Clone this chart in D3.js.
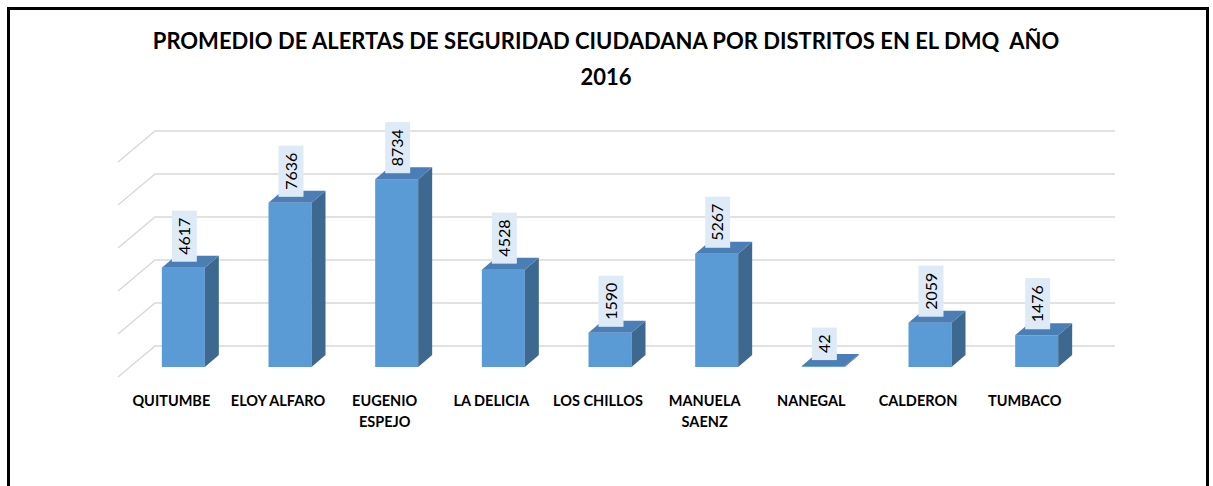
<!DOCTYPE html>
<html>
<head>
<meta charset="utf-8">
<script src="https://cdn.jsdelivr.net/npm/d3@7"></script>
<style>
  html, body { margin: 0; padding: 0; background: #fff; }
  svg { display: block; }
</style>
</head>
<body>
<svg id="chart" width="1213" height="486"></svg>
<script>
// ---- data ----
const categories = ["QUITUMBE", "ELOY ALFARO", "EUGENIO ESPEJO", "LA DELICIA", "LOS CHILLOS", "MANUELA SAENZ", "NANEGAL", "CALDERON", "TUMBACO"];
const categoryLines = [["QUITUMBE"], ["ELOY ALFARO"], ["EUGENIO", "ESPEJO"], ["LA DELICIA"], ["LOS CHILLOS"], ["MANUELA", "SAENZ"], ["NANEGAL"], ["CALDERON"], ["TUMBACO"]];
const values = [4617, 7636, 8734, 4528, 1590, 5267, 42, 2059, 1476];
const yTicks = [0, 2000, 4000, 6000, 8000, 10000];
const titleLines = ["PROMEDIO DE ALERTAS DE SEGURIDAD CIUDADANA POR DISTRITOS EN EL DMQ\u00a0\u00a0AÑO", "2016"];

// ---- layout ----
const svg = d3.select("#chart");

// front plane of bars
const x = d3.scaleBand().domain(categories).range([130, 1090]).paddingInner(0).paddingOuter(0);
const y = d3.scaleLinear().domain([0, 10000]).range([367, 152]);

const back = { dx: 25, dy: -21 };   // back wall offset from bar front plane
const front = { dx: -12, dy: 10 };  // front edge of floor from bar front plane
const depth = { dx: 14, dy: -12 };  // bar depth
const barW = 43;

const colors = { front: "#5B9BD5", top: "#4A7EB4", side: "#3D6890", grid: "#D9D9D9", labelBg: "#DEEBF7" };

// outer border
svg.append("rect").attr("x", 8.5).attr("y", 8.5).attr("width", 1199).attr("height", 520)
  .attr("fill", "#fff").attr("stroke", "#000").attr("stroke-width", 3);

// title
const title = svg.append("text").attr("text-anchor", "middle")
  .attr("font-family", "Lato, 'Open Sans', sans-serif").attr("font-weight", "bold")
  .attr("font-size", 22).attr("fill", "#000");
title.selectAll("tspan").data(titleLines).join("tspan")
  .attr("x", 606).attr("y", (d, i) => 49 + i * 36).text(d => d);

// gridlines (back wall + left side wall)
const gx0 = x.range()[0], gx1 = x.range()[1];
const grid = svg.append("g").attr("stroke", colors.grid).attr("stroke-width", 1.5).attr("fill", "none");
yTicks.forEach(t => {
  const yb = y(t) + back.dy;
  grid.append("path").attr("d", d3.line()([
    [gx0 + front.dx, y(t) + front.dy],
    [gx0 + back.dx, yb],
    [gx1 + back.dx, yb]
  ]));
});

// bars
const bars = svg.append("g");
categories.forEach((c, i) => {
  const v = values[i];
  const bx = x(c) + (x.bandwidth() - barW) / 2;
  const yt = y(v), y0 = y(0);
  const g = bars.append("g");
  g.append("rect").attr("x", bx).attr("y", yt).attr("width", barW).attr("height", Math.max(0, y0 - yt))
    .attr("fill", colors.front);
  g.append("path").attr("d", d3.line()([
    [bx + barW, yt], [bx + barW + depth.dx, yt + depth.dy],
    [bx + barW + depth.dx, y0 + depth.dy], [bx + barW, y0]
  ]) + "Z").attr("fill", colors.side);
  g.append("path").attr("d", d3.line()([
    [bx, yt], [bx + depth.dx, yt + depth.dy],
    [bx + barW + depth.dx, yt + depth.dy], [bx + barW, yt]
  ]) + "Z").attr("fill", colors.top);
});

// data labels
const labels = svg.append("g");
categories.forEach((c, i) => {
  const v = values[i];
  const cx = x(c) + x.bandwidth() / 2 + 1;
  const bottom = y(v) - 6;
  const lg = labels.append("g").attr("transform", `translate(${cx},${bottom}) rotate(-90)`);
  const bg = lg.append("rect").attr("fill", colors.labelBg);
  const t = lg.append("text").attr("x", 7).attr("y", 0).attr("dy", "0.36em")
    .attr("font-family", "Lato, 'Open Sans', sans-serif").attr("font-size", 16)
    .attr("fill", "#000").text(v);
  const len = t.node().getComputedTextLength();
  bg.attr("x", 0).attr("y", -12.5).attr("width", len + 14).attr("height", 25);
});

// category labels (on floor front edge)
const cat = svg.append("g").attr("font-family", "Lato, 'Open Sans', sans-serif")
  .attr("font-weight", "bold").attr("font-size", 14.5).attr("fill", "#000").attr("text-anchor", "middle");
categories.forEach((c, i) => {
  const cx = x(c) + x.bandwidth() / 2 + front.dx;
  const t = cat.append("text");
  t.selectAll("tspan").data(categoryLines[i]).join("tspan")
    .attr("x", cx).attr("y", (d, j) => 406 + j * 21).text(d => d);
});
</script>
</body>
</html>
